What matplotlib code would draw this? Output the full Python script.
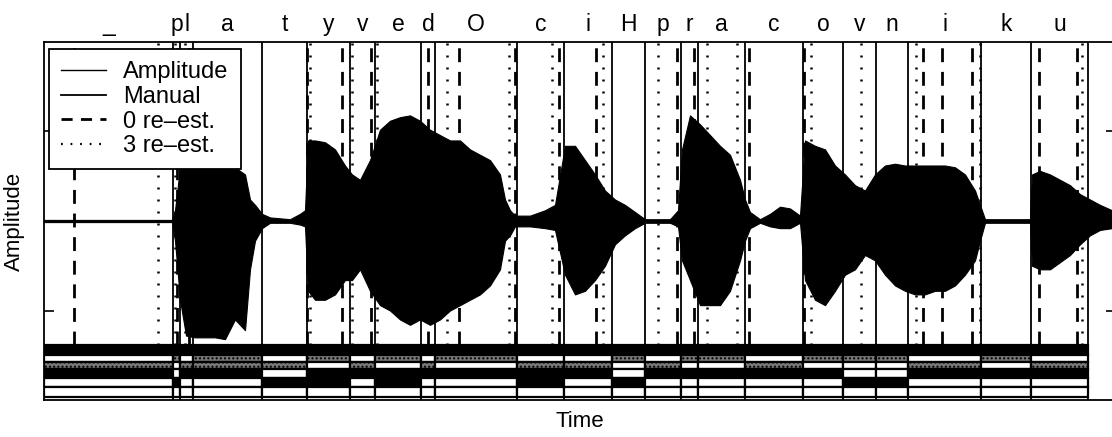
import matplotlib
matplotlib.use("Agg")
import matplotlib.pyplot as plt
from matplotlib.lines import Line2D

# ---- datos (tiempo en ms, amplitud normalizada) ----
wave_t = [0, 128, 131, 136, 142, 151, 161, 171, 181, 191, 201, 206, 211, 218, 226, 246, 256, 261,
          264, 271, 281, 291, 301, 308, 316, 326, 336, 346, 356, 366, 376, 386, 396, 406, 416, 426,
          436, 446, 456, 461, 466, 471, 486, 501, 511, 521, 531, 541, 551, 561, 571, 581, 591, 601,
          626, 634, 638, 646, 656, 666, 676, 686, 696, 701, 706, 716, 726, 736, 746, 756, 761, 771,
          781, 791, 801, 811, 821, 831, 841, 851, 861, 871, 881, 891, 901, 911, 921, 931, 936, 941,
          986, 988, 996, 1006, 1016, 1026, 1036, 1046, 1056, 1068]
wave_hi = [0.006, 0.006, 0.06, 0.30, 0.31, 0.31, 0.31, 0.31, 0.31, 0.30, 0.26, 0.12, 0.09, 0.04, 0.02, 0.01, 0.04, 0.06,
           0.45, 0.45, 0.44, 0.40, 0.31, 0.26, 0.23, 0.34, 0.51, 0.56, 0.58, 0.59, 0.56, 0.51, 0.48, 0.45, 0.45, 0.40,
           0.37, 0.34, 0.26, 0.12, 0.06, 0.03, 0.03, 0.06, 0.09, 0.42, 0.42, 0.34, 0.26, 0.17, 0.12, 0.09, 0.05, 0.01,
           0.01, 0.06, 0.40, 0.59, 0.54, 0.48, 0.42, 0.37, 0.23, 0.12, 0.05, 0.01, 0.04, 0.08, 0.07, 0.03, 0.45, 0.42,
           0.40, 0.31, 0.26, 0.20, 0.17, 0.26, 0.31, 0.32, 0.31, 0.31, 0.31, 0.31, 0.31, 0.30, 0.26, 0.17, 0.09, 0.01,
           0.01, 0.26, 0.28, 0.26, 0.23, 0.20, 0.15, 0.12, 0.09, 0.06]
wave_lo = [-0.006, -0.006, -0.11, -0.44, -0.64, -0.65, -0.65, -0.65, -0.66, -0.55, -0.61, -0.27, -0.11, -0.04, -0.01, -0.01, -0.02, -0.03,
           -0.39, -0.44, -0.44, -0.41, -0.33, -0.33, -0.27, -0.39, -0.47, -0.50, -0.55, -0.58, -0.55, -0.58, -0.55, -0.50, -0.47, -0.44,
           -0.41, -0.36, -0.27, -0.11, -0.08, -0.03, -0.03, -0.04, -0.05, -0.30, -0.41, -0.39, -0.33, -0.25, -0.13, -0.08, -0.04, -0.01,
           -0.01, -0.03, -0.22, -0.33, -0.47, -0.47, -0.47, -0.39, -0.22, -0.11, -0.04, -0.01, -0.03, -0.04, -0.04, -0.01, -0.33, -0.44,
           -0.47, -0.39, -0.30, -0.27, -0.19, -0.22, -0.30, -0.36, -0.39, -0.41, -0.41, -0.39, -0.39, -0.36, -0.30, -0.22, -0.11, -0.01,
           -0.01, -0.25, -0.27, -0.27, -0.23, -0.19, -0.13, -0.08, -0.05, -0.04]

# limites de fonema: manual, 0 re-estimaciones, 3 re-estimaciones
manual_bounds = [0, 129, 136, 149, 218, 263, 306, 331, 377, 391, 473, 520, 568, 601, 637, 654,
                 701, 759, 799, 832, 864, 937, 987, 1044]
phones = ["_", "p", "l", "a", "t", "y", "v", "e", "d", "O", "c", "i", "H", "p", "r", "a",
          "c", "o", "v", "n", "i", "k", "u"]
reest0_bounds = [30, 133, 145, 263, 298, 327, 384, 415, 471, 515, 552, 633, 650, 705, 760,
                 879, 898, 928, 995, 1033]
reest3_bounds = [114, 131, 141, 266, 308, 333, 403, 465, 508, 559, 614, 663, 693, 767, 817,
                 872, 936, 1038]

# franja inferior: 6 filas por fonema (1 = negro, 2 = gris, 0 = blanco)
strip_codes = ["102100", "120010", "102100", "122100", "102010", "120110", "102100", "120110",
               "102100", "120100", "102110", "102100", "120010", "102100", "120100", "120100",
               "102100", "120100", "120010", "120010", "102100", "120100", "102100"]
strip_rows = [-0.693, -0.749, -0.788, -0.827, -0.877, -0.930, -0.985]

plt.rcParams.update({
    "font.family": "Liberation Sans",
    "font.size": 15,
})

fig = plt.figure(figsize=(11.12, 4.37), dpi=100)
ax = fig.add_axes([44 / 1112, 37 / 437, 1072 / 1112, 358 / 437])
ax.set_xlim(0, 1072)
ax.set_ylim(-1, 1)

# forma de onda
ax.fill_between(wave_t, wave_lo, wave_hi, color="black", linewidth=0.8, zorder=3)

top = 1.0
strip_top = strip_rows[0]
for b in manual_bounds[1:]:
    ax.plot([b, b], [-1, top], color="black", lw=1.3, zorder=4)
for b in reest0_bounds:
    ax.plot([b, b], [strip_top, top], color="black", lw=2.0, dashes=(5, 3.5), zorder=4)
for b in reest3_bounds:
    ax.plot([b, b], [strip_top, top], color="black", lw=1.8, dashes=(0.8, 4.0), zorder=4)

# franja de rasgos
for i, code in enumerate(strip_codes):
    x0 = manual_bounds[i]
    w = manual_bounds[i + 1] - x0
    for r, c in enumerate(code):
        y0 = strip_rows[r + 1]
        h = strip_rows[r] - y0
        fc = {"1": "black", "2": "#7a7a7a", "0": "white"}[c]
        ax.bar(x0, h, width=w, bottom=y0, align="edge", color=fc, edgecolor="black",
               linewidth=1.6, hatch="...." if c == "2" else None, zorder=5)

# etiquetas de fonemas
for i, ph in enumerate(phones):
    mid = (manual_bounds[i] + manual_bounds[i + 1]) / 2
    ax.text(mid, 1.03, ph, transform=ax.get_xaxis_transform(), ha="center", va="baseline",
            fontsize=16.5)

ax.set_xticks([])
ax.set_yticks([-0.5, 0, 0.5])
ax.set_yticklabels([])
ax.tick_params(axis="y", direction="in", length=7, width=1.2, right=True)
for s in ax.spines.values():
    s.set_linewidth(1.3)
ax.set_ylabel("Amplitude", fontsize=16, labelpad=10)
ax.set_xlabel("Time", fontsize=16, labelpad=8)

handles = [
    Line2D([], [], color="black", lw=1.0),
    Line2D([], [], color="black", lw=1.3),
    Line2D([], [], color="black", lw=2.0, dashes=(4, 3)),
    Line2D([], [], color="black", lw=1.6, dashes=(0.8, 3.5)),
]
labels = ["Amplitude", "Manual", "0 re\u2013est.", "3 re\u2013est."]
leg = ax.legend(handles, labels, loc="upper left", bbox_to_anchor=(0.0047, 0.98), borderaxespad=0,
                fancybox=False, framealpha=1, edgecolor="black", handlelength=1.9,
                labelspacing=0.12, borderpad=0.5, handletextpad=0.75, fontsize=17)
leg.get_frame().set_linewidth(1.3)
leg.set_zorder(10)

fig.savefig("out.png", dpi=100)
